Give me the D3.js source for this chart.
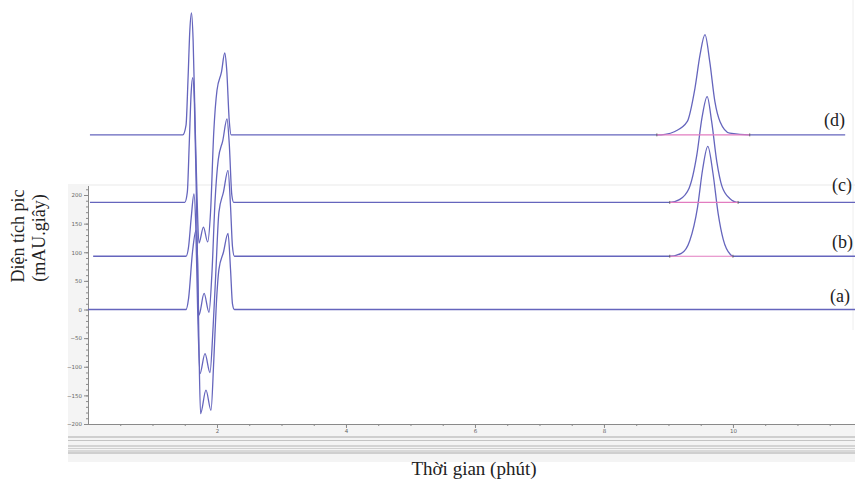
<!DOCTYPE html>
<meta charset="utf-8">
<style>
    body { margin: 0; background: #fff; }
    svg { display: block; }

    .trace {
        fill: none;
        stroke: #6565bd;
        stroke-width: 1.3;
        stroke-linejoin: round;
    }

    .intg {
        stroke: #e27cc0;
        stroke-width: 1.2;
    }

    .axis text {
        font-family: "DejaVu Sans", sans-serif;
        font-size: 5.5px;
        fill: #666;
    }

    .axis line, .axis path {
        stroke: #8a8a8a;
    }

    .serif {
        font-family: "Liberation Serif", "Times New Roman", serif;
        fill: #222;
    }
</style>
<svg width="855" height="480"></svg>
<script src="https://cdn.jsdelivr.net/npm/d3@7"></script>
<script>

    // [thời gian (phút), tín hiệu (mAU)]
    var traceA = [[0, 0], [1.52, 0], [1.56, 20], [1.62, 100], [1.674, 138], [1.70, 80], [1.72, -60],
        [1.745, -182], [1.829, -141], [1.907, -176], [1.95, -90], [1.99, 10], [2.03, 70], [2.10, 100],
        [2.171, 133], [2.21, 70], [2.24, 10], [2.27, 0], [11.9, 0]];

    var traceB = [[0.08, 93], [1.52, 93], [1.56, 110], [1.60, 160], [1.643, 202], [1.67, 150], [1.70, 0],
        [1.736, -112], [1.814, -77], [1.891, -110], [1.94, -30], [1.98, 60], [2.03, 170], [2.10, 205],
        [2.171, 243], [2.21, 180], [2.24, 110], [2.27, 93], [9.02, 93], [9.2, 98], [9.33, 120],
        [9.45, 178], [9.53, 245], [9.61, 285], [9.69, 238], [9.77, 168], [9.85, 122], [9.96, 96],
        [10.0, 93], [11.9, 93]];

    var traceC = [[0.03, 187], [1.50, 187], [1.54, 205], [1.57, 290], [1.60, 380], [1.623, 405],
        [1.65, 360], [1.68, 200], [1.72, -10], [1.80, 28], [1.876, -5], [1.92, 60], [1.97, 190],
        [2.02, 262], [2.09, 295], [2.155, 333], [2.19, 290], [2.23, 200], [2.26, 187], [9.02, 187],
        [9.17, 192], [9.32, 212], [9.44, 270], [9.52, 335], [9.60, 372], [9.67, 328], [9.75, 258],
        [9.83, 215], [9.95, 194], [10.08, 187], [11.9, 187]];

    var traceD = [[0.03, 305], [1.47, 305], [1.52, 322], [1.55, 400], [1.58, 490], [1.605, 518],
        [1.63, 470], [1.66, 330], [1.69, 200], [1.72, 116], [1.79, 144], [1.855, 118], [1.90, 170],
        [1.95, 310], [2.00, 383], [2.07, 415], [2.12, 448], [2.15, 420], [2.19, 330], [2.22, 305],
        [8.82, 305], [8.95, 306], [9.1, 311], [9.29, 328], [9.41, 386], [9.49, 445], [9.566, 480],
        [9.64, 433], [9.72, 363], [9.80, 328], [9.95, 308], [10.26, 305], [11.74, 305]];

    // đường nền tích phân của pic: [bắt đầu, kết thúc, mức nền]
    var intgB = [9.02, 10.0, 93];
    var intgC = [9.02, 10.08, 187];
    var intgD = [8.82, 10.26, 305];

    var traceNames = ["(a)", "(b)", "(c)", "(d)"];
    var yTicks = [-200, -150, -100, -50, 0, 50, 100, 150, 200];
    var xTicks = [2, 4, 6, 8, 10];

    var svg = d3.select("svg");

    var x = d3.scaleLinear().domain([0, 11.9]).range([88, 855.5]);
    var y = d3.scaleLinear().domain([-200, 200]).range([424, 195]);

    // nền xám của cửa sổ phần mềm
    svg.append("rect")
        .attr("x", 68).attr("y", 184)
        .attr("width", 787).attr("height", 278)
        .attr("fill", "#f4f4f4");

    svg.append("rect")
        .attr("x", 88).attr("y", 186)
        .attr("width", 767).attr("height", 238)
        .attr("fill", "#fff");

    svg.append("line")
        .attr("x1", 853).attr("x2", 853)
        .attr("y1", 0).attr("y2", 330)
        .attr("stroke", "#eeeeee");

    var bands = [[437, "#a9a9a9"], [440.5, "#c4c4c4"], [446, "#b3b3b3"], [448.5, "#d0d0d0"], [451, "#bdbdbd"], [453, "#a9a9a9"]];
    svg.selectAll(".band")
        .data(bands)
        .enter().append("line")
        .attr("class", "band")
        .attr("x1", 68).attr("x2", 855)
        .attr("y1", function (d) { return d[0]; })
        .attr("y2", function (d) { return d[0]; })
        .attr("stroke", function (d) { return d[1]; })
        .attr("stroke-width", 1.2);

    // trục y
    var gy = svg.append("g")
        .attr("class", "axis")
        .attr("transform", "translate(88,0)");

    gy.call(d3.axisLeft(y).tickValues(d3.range(-200, 211, 10)).tickSize(2).tickFormat(""))
        .select(".domain").remove();

    var gy2 = svg.append("g")
        .attr("class", "axis")
        .attr("transform", "translate(88,0)");
    gy2.call(d3.axisLeft(y).tickValues(yTicks).tickSize(4).tickPadding(2))
        .select(".domain").remove();

    svg.append("line")
        .attr("x1", 88.5).attr("x2", 88.5)
        .attr("y1", 186).attr("y2", 424)
        .attr("stroke", "#8a8a8a");

    // trục x
    var gx = svg.append("g")
        .attr("class", "axis")
        .attr("transform", "translate(0,424)");
    gx.call(d3.axisBottom(x).tickValues(d3.range(0.5, 12, 0.5)).tickSize(2).tickFormat(""))
        .select(".domain").remove();

    var gx2 = svg.append("g")
        .attr("class", "axis")
        .attr("transform", "translate(0,424)");
    gx2.call(d3.axisBottom(x).tickValues(xTicks).tickSize(4).tickPadding(1))
        .select(".domain").remove();

    svg.append("line")
        .attr("x1", 88).attr("x2", 855)
        .attr("y1", 424.5).attr("y2", 424.5)
        .attr("stroke", "#8a8a8a");

    // các sắc ký đồ
    var line = d3.line()
        .x(function (d) { return x(d[0]); })
        .y(function (d) { return y(d[1]); })
        .curve(d3.curveMonotoneX);

    svg.selectAll(".trace")
        .data([traceA, traceB, traceC, traceD])
        .enter().append("path")
        .attr("class", "trace")
        .attr("d", line);

    svg.selectAll(".intg")
        .data([intgB, intgC, intgD])
        .enter().append("line")
        .attr("class", "intg")
        .attr("x1", function (d) { return x(d[0]); })
        .attr("x2", function (d) { return x(d[1]); })
        .attr("y1", function (d) { return y(d[2]); })
        .attr("y2", function (d) { return y(d[2]); });

    var marks = [];
    [intgB, intgC, intgD].forEach(function (d) {
        marks.push([d[0], d[2]]);
        marks.push([d[1], d[2]]);
    });
    svg.selectAll(".mark")
        .data(marks)
        .enter().append("line")
        .attr("class", "mark")
        .attr("x1", function (d) { return x(d[0]); })
        .attr("x2", function (d) { return x(d[0]); })
        .attr("y1", function (d) { return y(d[1]) - 1.5; })
        .attr("y2", function (d) { return y(d[1]) + 1.5; })
        .attr("stroke", "#555")
        .attr("stroke-width", 0.8);

    // nhãn các đường
    var labelPos = [[850, 302], [853, 248], [852, 191], [845, 126]];
    svg.selectAll(".name")
        .data(traceNames)
        .enter().append("text")
        .attr("class", "serif name")
        .attr("x", function (d, i) { return labelPos[i][0]; })
        .attr("y", function (d, i) { return labelPos[i][1]; })
        .attr("text-anchor", "end")
        .attr("font-size", 18)
        .text(function (d) { return d; });

    svg.append("text")
        .attr("class", "serif")
        .attr("x", 474)
        .attr("y", 475)
        .attr("text-anchor", "middle")
        .attr("font-size", 19)
        .text("Thời gian (phút)");

    svg.append("text")
        .attr("class", "serif")
        .attr("transform", "translate(24,236) rotate(-90)")
        .attr("text-anchor", "middle")
        .attr("font-size", 18)
        .text("Diện tích pic");

    svg.append("text")
        .attr("class", "serif")
        .attr("transform", "translate(45,238) rotate(-90)")
        .attr("text-anchor", "middle")
        .attr("font-size", 18)
        .text("(mAU.giây)");

</script>
